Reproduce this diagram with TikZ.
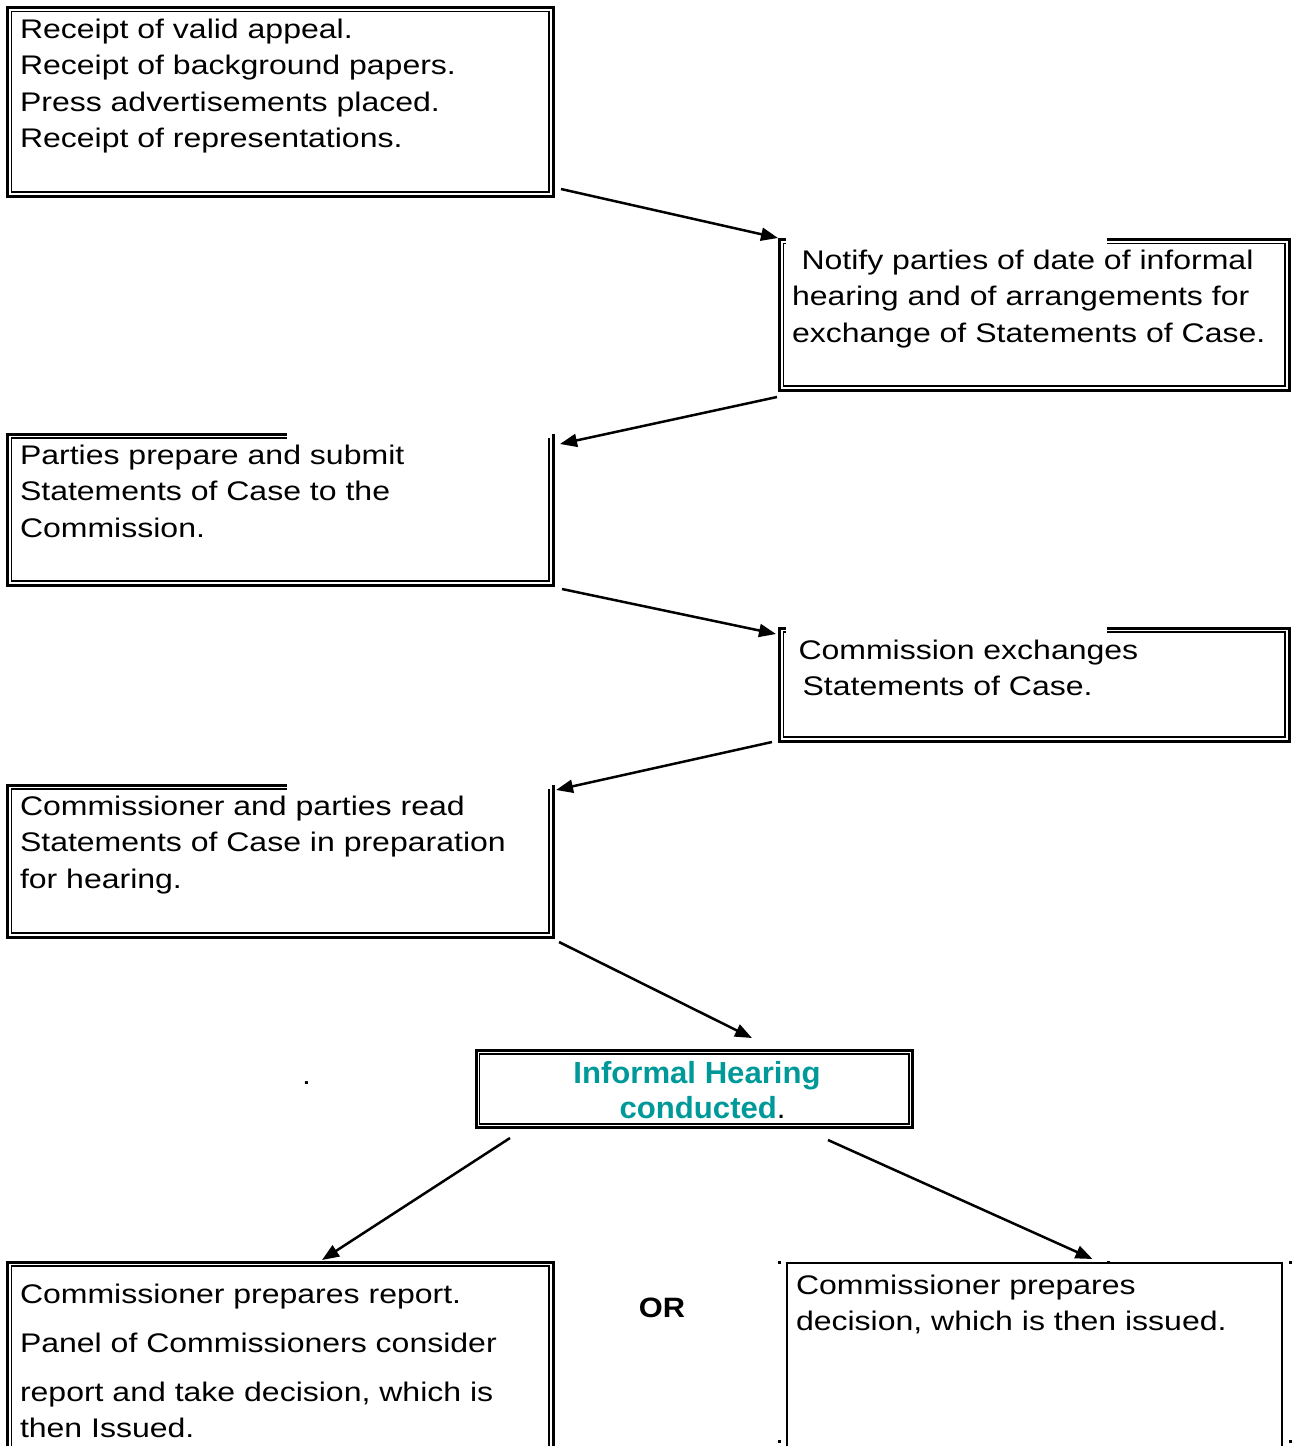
\documentclass[tikz,border=0pt]{standalone}
\usepackage{fontspec}
\setmainfont{Liberation Sans}
\usepackage{graphicx}
\usetikzlibrary{arrows.meta}
\definecolor{hearteal}{RGB}{0,153,153}
\newcommand{\bt}[1]{\scalebox{1.19}[1]{\fontsize{26.9}{36.6}\selectfont\begin{tabular}[t]{@{}l@{}}#1\end{tabular}}}
\begin{document}
\begin{tikzpicture}[x=1pt,y=-1pt,
  outer/.style={line width=3pt},
  inner/.style={line width=1.2pt},
  single/.style={line width=2pt},
  boxn/.style={inner sep=0pt,outer sep=0pt,anchor=north west,rectangle},
  txt/.style={inner sep=0pt,outer sep=0pt,anchor=base west},
  arr/.style={line width=2.5pt,-{Triangle[length=17pt,width=13pt]}},
  handle/.style={fill=black}]
\useasboundingbox (0,0) rectangle (1292,1446);
\clip (0,0) rectangle (1292,1446);
\fill[white] (0,0) rectangle (1292,1446);

% boxes
\node[boxn,minimum width=545.5pt,minimum height=188.5pt] (b1) at (7.5,7.5) {};
\node[boxn,minimum width=509.5pt,minimum height=150.5pt] (b2) at (779.5,239.5) {};
\node[boxn,minimum width=545.5pt,minimum height=151pt] (b3) at (7.5,434) {};
\node[boxn,minimum width=509.5pt,minimum height=113pt] (b4) at (779.5,628) {};
\node[boxn,minimum width=545.5pt,minimum height=152pt] (b5) at (7.5,785) {};
\node[boxn,minimum width=436.5pt,minimum height=77pt] (b6) at (476,1050.5) {};
\node[boxn,minimum width=545.5pt,minimum height=210pt] (b7) at (7.5,1262) {};
\node[boxn,minimum width=495pt,minimum height=210pt] (b8) at (787,1263) {};

% box 1 (full double border)
\draw[outer] (b1.north west) rectangle (b1.south east);
\draw[inner] ([shift={(4,4)}]b1.north west) rectangle ([shift={(-4,-4)}]b1.south east);

% box 2 (top partly open)
\draw[outer] ([shift={(6,0)}]b2.north west) -- (b2.north west) -- (b2.south west) -- (b2.south east) -- (b2.north east) -- ([shift={(-182,0)}]b2.north east);
\draw[inner] ([shift={(6,4)}]b2.north west) -- ([shift={(4,4)}]b2.north west) -- ([shift={(4,-4)}]b2.south west) -- ([shift={(-4,-4)}]b2.south east) -- ([shift={(-4,4)}]b2.north east) -- ([shift={(-182,4)}]b2.north east);

% box 3
\draw[outer] ([shift={(279.5,0)}]b3.north west) -- (b3.north west) -- (b3.south west) -- (b3.south east) -- (b3.north east);
\draw[inner] ([shift={(279.5,4)}]b3.north west) -- ([shift={(4,4)}]b3.north west) -- ([shift={(4,-4)}]b3.south west) -- ([shift={(-4,-4)}]b3.south east) -- ([shift={(-4,4)}]b3.north east);

% box 4
\draw[outer] ([shift={(6,0)}]b4.north west) -- (b4.north west) -- (b4.south west) -- (b4.south east) -- (b4.north east) -- ([shift={(-182,0)}]b4.north east);
\draw[inner] ([shift={(6,4)}]b4.north west) -- ([shift={(4,4)}]b4.north west) -- ([shift={(4,-4)}]b4.south west) -- ([shift={(-4,-4)}]b4.south east) -- ([shift={(-4,4)}]b4.north east) -- ([shift={(-182,4)}]b4.north east);

% box 5
\draw[outer] ([shift={(279.5,0)}]b5.north west) -- (b5.north west) -- (b5.south west) -- (b5.south east) -- (b5.north east);
\draw[inner] ([shift={(279.5,4)}]b5.north west) -- ([shift={(4,4)}]b5.north west) -- ([shift={(4,-4)}]b5.south west) -- ([shift={(-4,-4)}]b5.south east) -- ([shift={(-4,4)}]b5.north east);

% box 6
\draw[outer] (b6.north west) rectangle (b6.south east);
\draw[inner] ([shift={(3.5,3.5)}]b6.north west) rectangle ([shift={(-3.5,-3.5)}]b6.south east);

% box 7
\draw[outer] (b7.north west) rectangle (b7.south east);
\draw[inner] ([shift={(4,4)}]b7.north west) rectangle ([shift={(-4,-4)}]b7.south east);

% box 8 (single line with selection handles)
\draw[single] (b8.north west) rectangle (b8.south east);
\fill[handle] (777.5,1260.5) rectangle (780.5,1263.5);
\fill[handle] (1106.5,1260.5) rectangle (1109.5,1263.5);
\fill[handle] (1288.5,1260.5) rectangle (1291.5,1263.5);
\fill[handle] (777.5,1440) rectangle (780.5,1443);
\fill[handle] (1288.5,1440) rectangle (1291.5,1443);

% texts
\node[txt] (t1) at (20,38) {\bt{Receipt of valid appeal.\\Receipt of background papers.\\Press advertisements placed.\\Receipt of representations.}};
\node[txt] (t2) at (792,269) {\bt{\hspace*{8pt}Notify parties of date of informal\\hearing and of arrangements for\\exchange of Statements of Case.}};
\node[txt] (t3) at (20,464) {\bt{Parties prepare and submit\\Statements of Case to the\\Commission.}};
\node[txt] (t4) at (798.5,659) {\bt{Commission exchanges\\\hspace*{3.4pt}Statements of Case.}};
\node[txt] (t5) at (20,815) {\bt{Commissioner and parties read\\Statements of Case in preparation\\for hearing.}};
\node[inner sep=0pt,anchor=base] (t6) at (697,1083) {\scalebox{1.02}[1]{\fontsize{30.5}{35}\selectfont\bfseries\color{hearteal}\begin{tabular}[t]{@{}c@{}}Informal Hearing\\\hspace*{11pt}conducted{\mdseries\color{black}.}\end{tabular}}};
\node[inner sep=0pt,anchor=base] (dot) at (306.5,1084) {\scalebox{1.19}[1]{\fontsize{26.9}{36.6}\selectfont .}};
\node[txt] (t7) at (20,1303) {\bt{Commissioner prepares report.\\[12.4pt]Panel of Commissioners consider\\[12.4pt]report and take decision, which is\\then Issued.}};
\node[inner sep=0pt,anchor=base] (or) at (662,1317) {\scalebox{1.1}[1]{\fontsize{28}{33}\selectfont\bfseries OR}};
\node[txt] (t8) at (796,1294) {\bt{Commissioner prepares\\decision, which is then issued.}};

% arrows
\draw[arr] ([shift={(8,-7)}]b1.south east) -- ([shift={(-1.5,-1.5)}]b2.north west);
\draw[arr] ([shift={(-2.5,7)}]b2.south west) -- ([shift={(7,10)}]b3.north east);
\draw[arr] ([shift={(9,4)}]b3.south east) -- ([shift={(-3.5,6)}]b4.north west);
\draw[arr] ([shift={(-7.5,1)}]b4.south west) -- ([shift={(3,5)}]b5.north east);
\draw[arr] ([shift={(6,5)}]b5.south east) -- ([shift={(57.75,-12.5)}]b6.north);
\draw[arr] ([shift={(34,10.5)}]b6.south west) -- ([shift={(41.75,-2)}]b7.north);
\draw[arr] ([shift={(-84.5,12.5)}]b6.south east) -- ([shift={(58,-4)}]b8.north);
\end{tikzpicture}
\end{document}
